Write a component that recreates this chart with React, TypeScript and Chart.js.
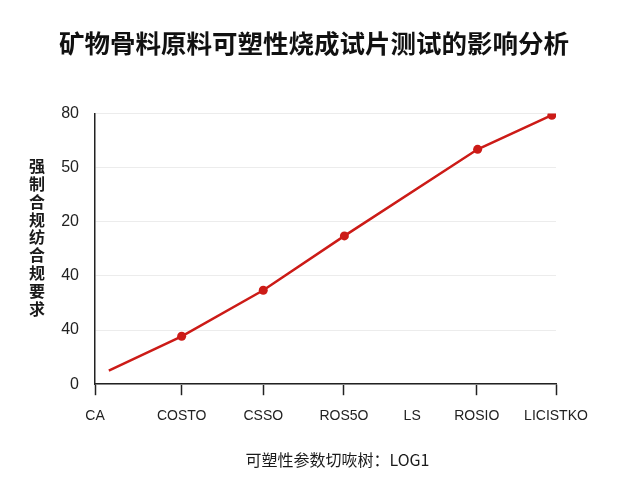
import React, { useEffect, useRef } from "react";
import { Chart, registerables } from "chart.js";

Chart.register(...registerables);

const chartTitle = "矿物骨料原料可塑性烧成试片测试的影响分析";
const yAxisTitle = "强制合规纺合规要求";
const xAxisTitle = "可塑性参数切咴树：LOG1";

const xTickValues = [0, 18.8, 36.5, 54, 68.8, 82.8, 100];
const xTickLabels = ["CA", "COSTO", "CSSO", "ROS5O", "LS", "ROSIO", "LICISTKO"];
const xTickHidden = [false, false, false, false, true, false, false];

const yTickLabels = ["0", "40", "40", "20", "50", "80"];

const pointX = [3.0, 18.8, 36.5, 54.1, 83.0, 99.1];
const pointY = [5.0, 17.7, 34.7, 54.8, 86.8, 99.4];
const pointShown = [false, true, true, true, true, true];

const FONT = "'Liberation Sans', Arial, 'Noto Sans CJK SC', sans-serif";
const CJK = "'Noto Sans CJK SC', 'Liberation Sans', sans-serif";

const axisTitlesPlugin = {
  id: "axisTitles",
  afterDraw(chart: any) {
    const { ctx, chartArea } = chart;
    // vertical, stacked y-axis title
    const chars = Array.from(yAxisTitle);
    const step = 17.9;
    const cx = 37;
    const cy = (chartArea.top + chartArea.bottom) / 2 - 11.5;
    const startY = cy - ((chars.length - 1) * step) / 2;
    ctx.save();
    ctx.fillStyle = "#1a1a1a";
    ctx.font = `bold 16px ${CJK}`;
    ctx.textAlign = "center";
    ctx.textBaseline = "middle";
    chars.forEach((c, i) => ctx.fillText(c, cx, startY + i * step));
    // x-axis title
    ctx.font = `16px ${CJK}`;
    ctx.fillText(xAxisTitle, (chartArea.left + chartArea.right) / 2 + 12, chartArea.bottom + 76);
    ctx.restore();
  },
};

export default function App() {
  const ref = useRef<HTMLCanvasElement>(null);

  useEffect(() => {
    if (!ref.current) return;
    const data = pointX.map((x, i) => ({ x, y: pointY[i] }));
    const chart = new Chart(ref.current, {
      type: "line",
      data: {
        datasets: [
          {
            data,
            borderColor: "#cc1b17",
            backgroundColor: "#cc1b17",
            borderWidth: 2.5,
            tension: 0,
            pointRadius: (ctx: any) => (pointShown[ctx.dataIndex] ? 4.5 : 0),
            pointBackgroundColor: "#cc1b17",
            pointBorderColor: "#cc1b17",
            pointBorderWidth: 0,
          },
        ],
      },
      options: {
        animation: false,
        responsive: true,
        maintainAspectRatio: false,
        layout: { padding: { top: 28, left: 8, right: 20, bottom: 42 } },
        plugins: {
          legend: { display: false },
          tooltip: { enabled: false },
          title: {
            display: true,
            text: chartTitle,
            color: "#111",
            font: { family: CJK, size: 25.5, weight: "bold" },
            padding: { top: 0, bottom: 55 },
          },
        },
        scales: {
          x: {
            type: "linear",
            min: 0,
            max: 100,
            afterBuildTicks: (scale: any) => {
              scale.ticks = xTickValues.map((v) => ({ value: v }));
            },
            ticks: {
              autoSkip: false,
              maxRotation: 0,
              padding: 13,
              color: "#222",
              font: { family: FONT, size: 14 },
              callback: (_v: any, i: number) => xTickLabels[i],
            },
            grid: {
              drawOnChartArea: false,
              drawTicks: true,
              tickLength: 11,
              tickWidth: 1.5,
              tickColor: (ctx: any) => (xTickHidden[ctx.index] ? "rgba(0,0,0,0)" : "#222"),
            },
            border: { display: true, color: "#222", width: 1.5 },
          },
          y: {
            min: 0,
            max: 100,
            afterFit: (scale: any) => {
              scale.width = 87;
            },
            ticks: {
              stepSize: 20,
              padding: 16,
              color: "#222",
              font: { family: FONT, size: 16 },
              callback: (_v: any, i: number) => yTickLabels[i],
            },
            grid: {
              color: "#ececec",
              lineWidth: 1,
              drawTicks: false,
            },
            border: { display: true, color: "#222", width: 1.5 },
          },
          yRight: {
            position: "right",
            display: true,
            afterFit: (scale: any) => {
              scale.width = 64;
            },
            ticks: { display: false },
            grid: { display: false, drawTicks: false },
            border: { display: false },
          },
        },
      },
      plugins: [axisTitlesPlugin],
    });
    return () => chart.destroy();
  }, []);

  return (
    <div style={{ position: "fixed", left: 0, top: 0, width: 640, height: 480, background: "#fff" }}>
      <canvas ref={ref} />
    </div>
  );
}
